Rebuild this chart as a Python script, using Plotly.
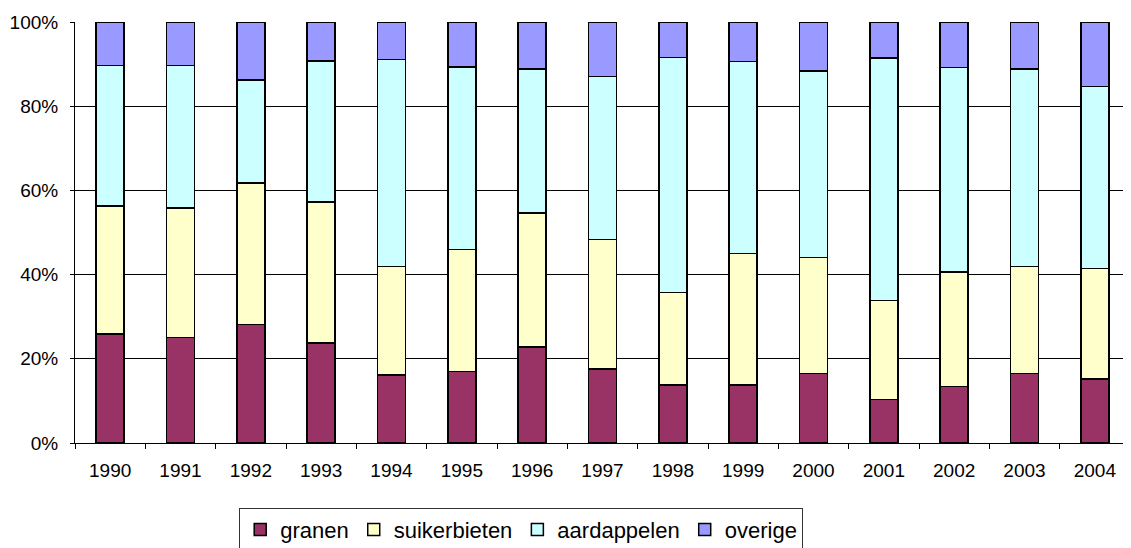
import plotly.graph_objects as go

years = ['1990', '1991', '1992', '1993', '1994', '1995', '1996', '1997',
         '1998', '1999', '2000', '2001', '2002', '2003', '2004']

granen = [25.9, 25.1, 28.2, 23.7, 16.1, 17.0, 22.8, 17.6, 13.8, 13.8, 16.5, 10.3, 13.4, 16.5, 15.2]
suikerbieten = [30.4, 30.7, 33.5, 33.5, 25.8, 29.0, 31.8, 30.7, 22.0, 31.2, 27.6, 23.6, 27.2, 25.4, 26.3]
aardappelen = [33.4, 33.9, 24.5, 33.5, 49.2, 43.3, 34.2, 38.8, 55.8, 45.6, 44.3, 57.6, 48.6, 46.9, 43.2]
overige = [10.3, 10.3, 13.8, 9.3, 8.9, 10.7, 11.2, 12.9, 8.4, 9.4, 11.6, 8.5, 10.8, 11.2, 15.3]

y_ticks = [0, 20, 40, 60, 80, 100]
y_labels = ['0%', '20%', '40%', '60%', '80%', '100%']

series = [
    ('granen', granen, '#993366'),
    ('suikerbieten', suikerbieten, '#FFFFCC'),
    ('aardappelen', aardappelen, '#CCFFFF'),
    ('overige', overige, '#9999FF'),
]

fig = go.Figure()
for name, vals, color in series:
    fig.add_trace(
        go.Bar(x=years, y=vals, name=name,
               marker=dict(color=color, line=dict(color='black', width=1.5)))
    )

# page body has an 8px margin, so the figure is sized/offset to compensate
font = 'Liberation Sans, Arial, sans-serif'
fig.update_layout(
    barmode='stack',
    barnorm='percent',
    bargap=0.6,
    width=1123,
    height=540,
    margin=dict(l=67, r=1, t=14, b=105),
    plot_bgcolor='white',
    paper_bgcolor='white',
    font=dict(family=font, size=19, color='black'),
    showlegend=True,
    legend=dict(
        orientation='h',
        xref='container', yref='container',
        x=0.457, xanchor='center',
        y=0.0745, yanchor='top',
        font=dict(size=22, color='black'),
        bordercolor='#333333', borderwidth=1,
        traceorder='normal',
    ),
    xaxis=dict(
        showline=True, linecolor='black', linewidth=1,
        ticks='outside', tickson='boundaries', ticklen=5, tickcolor='black',
        ticklabelstandoff=10,
        showgrid=False,
    ),
    yaxis=dict(
        range=[0, 100],
        tickvals=y_ticks,
        ticktext=y_labels,
        showline=True, linecolor='black', linewidth=1,
        ticks='outside', ticklen=4, tickcolor='black',
        ticklabelstandoff=8,
        showgrid=True, gridcolor='black', gridwidth=1,
        zeroline=False,
    ),
)

fig.write_html("out.html")
